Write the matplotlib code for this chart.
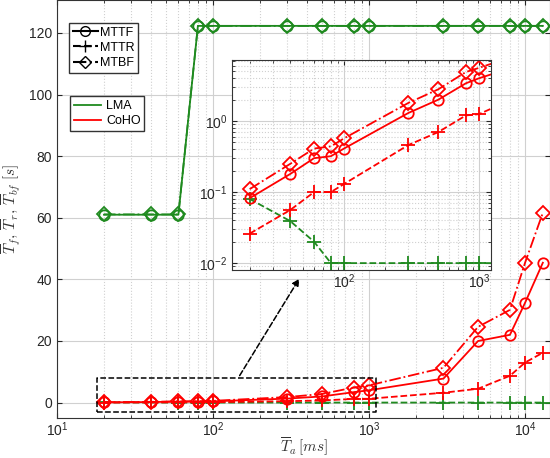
import numpy as np
import matplotlib.pyplot as plt
from matplotlib.lines import Line2D
from matplotlib.ticker import LogLocator, NullFormatter

plt.rcParams["font.family"] = ["Liberation Sans", "DejaVu Sans"]
plt.rcParams["mathtext.fontset"] = "cm"

# arrival period (ms)
t_a = [20, 40, 60, 80, 100, 300, 500, 800, 1000, 3000, 5000, 8000, 10000, 13000]

# LMA
lma_mttf = [61.0, 61.0, 61.0, 122.3, 122.3, 122.3, 122.3, 122.3, 122.3, 122.3, 122.3, 122.3, 122.3, 122.3]
lma_mttr = [0.08, 0.039, 0.02, 0.01, 0.01, 0.01, 0.01, 0.01, 0.01, 0.01, 0.01, 0.01, 0.01, 0.01]
lma_mtbf = [61.1, 61.1, 61.1, 122.3, 122.3, 122.3, 122.3, 122.3, 122.3, 122.3, 122.3, 122.3, 122.3, 122.3]

# CoHO
coho_mttf = [0.082, 0.18, 0.30, 0.32, 0.41, 1.3, 2.0, 3.4, 4.0, 7.8, 20.0, 22.0, 32.4, 45.4]
coho_mttr = [0.026, 0.056, 0.10, 0.10, 0.13, 0.46, 0.70, 1.2, 1.25, 3.2, 4.5, 8.7, 13.0, 16.2]
coho_mtbf = [0.11, 0.25, 0.41, 0.44, 0.57, 1.8, 2.8, 4.9, 5.6, 11.3, 24.6, 30.1, 45.4, 61.6]

GREEN = "#1f8a1f"
RED = "#ff0000"
tick_color = "#262626"

series = [
    (lma_mttf, GREEN, "-", "o"),
    (lma_mttr, GREEN, "--", "+"),
    (lma_mtbf, GREEN, "-.", "D"),
    (coho_mttf, RED, "-", "o"),
    (coho_mttr, RED, "--", "+"),
    (coho_mtbf, RED, "-.", "D"),
]


def draw_series(ax):
    for values, color, ls, marker in series:
        size = {"o": 7.5, "+": 10, "D": 7}[marker]
        ax.plot(t_a, values, color=color, linestyle=ls, linewidth=1.3,
                marker=marker, markersize=size, markerfacecolor="none",
                markeredgewidth=1.3)


def style_axes(ax, minor_y=False):
    ax.tick_params(which="both", direction="in", colors=tick_color, labelsize=10)
    ax.tick_params(axis="x", pad=1.5)
    ax.tick_params(which="both", top=True, right=True)
    for sp in ax.spines.values():
        sp.set_color("#333333")
        sp.set_linewidth(0.8)
    ax.grid(True, which="major", color="#d0d0d0", linewidth=0.8)
    if minor_y:
        ax.grid(True, which="minor", color="#d0d0d0", linestyle=":", linewidth=0.8)
    else:
        ax.grid(True, which="minor", axis="x", color="#d0d0d0", linestyle=":", linewidth=0.8)
    ax.set_axisbelow(True)


fig = plt.figure(figsize=(5.5, 4.58), dpi=100)
ax = fig.add_axes([57 / 550, 40 / 458, 493 / 550, 418 / 458])

draw_series(ax)
ax.set_xscale("log")
ax.set_xlim(10, 14450)
ax.set_ylim(-5, 130.7)
ax.set_yticks([0, 20, 40, 60, 80, 100, 120])
ax.xaxis.set_minor_locator(LogLocator(base=10, subs=np.arange(2, 10)))
ax.xaxis.set_minor_formatter(NullFormatter())
style_axes(ax)

ax.set_xlabel(r"$\overline{T}_a\,[ms]$", fontsize=11, color="#333333", labelpad=-2)
ax.set_ylabel(r"$\overline{T}_f,\,\overline{T}_r,\,\overline{T}_{bf}\ [s]$",
              fontsize=11, color="#333333", labelpad=4)

# zoom box and arrow
ax.plot([18, 1110, 1110, 18, 18], [-3, -3, 8, 8, -3], color="black",
        linestyle="--", linewidth=1.1)
ax.annotate("", xy=(365, 41), xytext=(145, 8),
            arrowprops=dict(arrowstyle="-|>", color="black", linestyle="--",
                            linewidth=1.1, mutation_scale=10))

# legends
marker_handles = [
    Line2D([], [], color="black", linestyle="-", marker="o", markerfacecolor="none", markersize=7),
    Line2D([], [], color="black", linestyle="--", marker="+", markersize=9),
    Line2D([], [], color="black", linestyle="-.", marker="D", markerfacecolor="none", markersize=6),
]
leg1 = ax.legend(marker_handles, ["MTTF", "MTTR", "MTBF"], loc="upper left",
                 bbox_to_anchor=(0.024, 0.945), fontsize=9, handlelength=2.0,
                 handletextpad=0.2, borderpad=0.3, labelspacing=0.25,
                 fancybox=False, framealpha=1, edgecolor="#333333", borderaxespad=0)
ax.add_artist(leg1)
color_handles = [
    Line2D([], [], color=GREEN, linewidth=1.3),
    Line2D([], [], color=RED, linewidth=1.3),
]
ax.legend(color_handles, ["LMA", "CoHO"], loc="upper left",
          bbox_to_anchor=(0.026, 0.77), fontsize=9, handlelength=2.2,
          handletextpad=0.4, borderpad=0.3, labelspacing=0.25,
          fancybox=False, framealpha=1, edgecolor="#333333", borderaxespad=0)

# inset
axin = fig.add_axes([232 / 550, 188 / 458, 259 / 550, 210 / 458])
draw_series(axin)
axin.set_xscale("log")
axin.set_yscale("log")
axin.set_xlim(14.8, 1227)
axin.set_ylim(0.008, 7.23)
axin.xaxis.set_minor_locator(LogLocator(base=10, subs=np.arange(2, 10)))
axin.xaxis.set_minor_formatter(NullFormatter())
axin.yaxis.set_minor_locator(LogLocator(base=10, subs=np.arange(2, 10)))
axin.yaxis.set_minor_formatter(NullFormatter())
axin.set_facecolor("white")
style_axes(axin, minor_y=True)

fig.savefig("out.png", dpi=100)
